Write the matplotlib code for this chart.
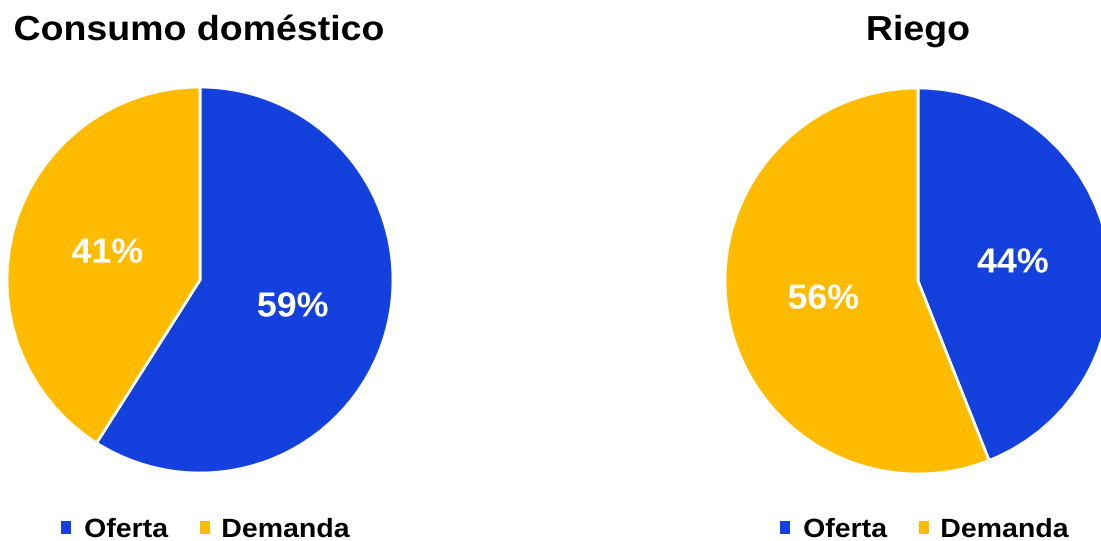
import matplotlib.pyplot as plt
from matplotlib.patches import Patch
from matplotlib.patheffects import AbstractPathEffect
from matplotlib.transforms import Affine2D

# Supply vs demand share for each water use
uses = ["Consumo doméstico", "Riego"]
series = ["Oferta", "Demanda"]
shares = {
    "Consumo doméstico": [59, 41],
    "Riego": [44, 56],
}
colors = ["#1441DD", "#FFBB00"]

plt.rcParams['font.family'] = ['Liberation Sans', 'DejaVu Sans']


class Widen(AbstractPathEffect):
    """Stretch a text path horizontally about its own centre."""

    def __init__(self, sx):
        super().__init__()
        self.sx = sx

    def draw_path(self, renderer, gc, tpath, affine, rgbFace=None):
        ext = tpath.get_extents()
        cx = (ext.x0 + ext.x1) / 2
        stretch = Affine2D().translate(-cx, 0).scale(self.sx, 1).translate(cx, 0)
        renderer.draw_path(gc, tpath, stretch + affine, rgbFace)


W, H = 1101, 541
fig = plt.figure(figsize=(W / 100, H / 100), dpi=100)

# pixel layout: (pie left, pie bottom, title x, legend x)
layout = {
    "Consumo doméstico": (7, 68, 199, 203),
    "Riego": (725, 67, 918, 922),
}
R = 386

for use in uses:
    left, bottom, tx, lx = layout[use]
    ax = fig.add_axes([left / W, bottom / H, R / W, R / H])
    ax.pie(shares[use], colors=colors, startangle=90, counterclock=False,
           autopct='%1.0f%%', pctdistance=0.5, radius=1,
           wedgeprops=dict(edgecolor='white', linewidth=2),
           textprops=dict(color='white', fontsize=25, fontweight='bold',
                          path_effects=[Widen(1.03)]))
    ax.set_xlim(-1, 1)
    ax.set_ylim(-1, 1)
    ax.set_aspect('equal')
    ax.axis('off')

    fig.text(tx / W, 1 - 40 / H, use, ha='center', va='baseline',
             fontsize=25, fontweight='bold', color='black',
             path_effects=[Widen(1.08)])

    handles = [Patch(facecolor=c, edgecolor='none') for c in colors]
    leg = ax.legend(handles, series, loc='center', ncol=2, frameon=False,
                    bbox_to_anchor=(lx / W, 1 - 530 / H), bbox_transform=fig.transFigure,
                    prop=dict(size=19, weight='bold'), handlelength=0.38, handleheight=0.38,
                    handletextpad=0.6, columnspacing=1.33, borderpad=0)
    for t in leg.get_texts():
        t.set_path_effects([Widen(1.08)])

fig.savefig("out.png", dpi=100)
